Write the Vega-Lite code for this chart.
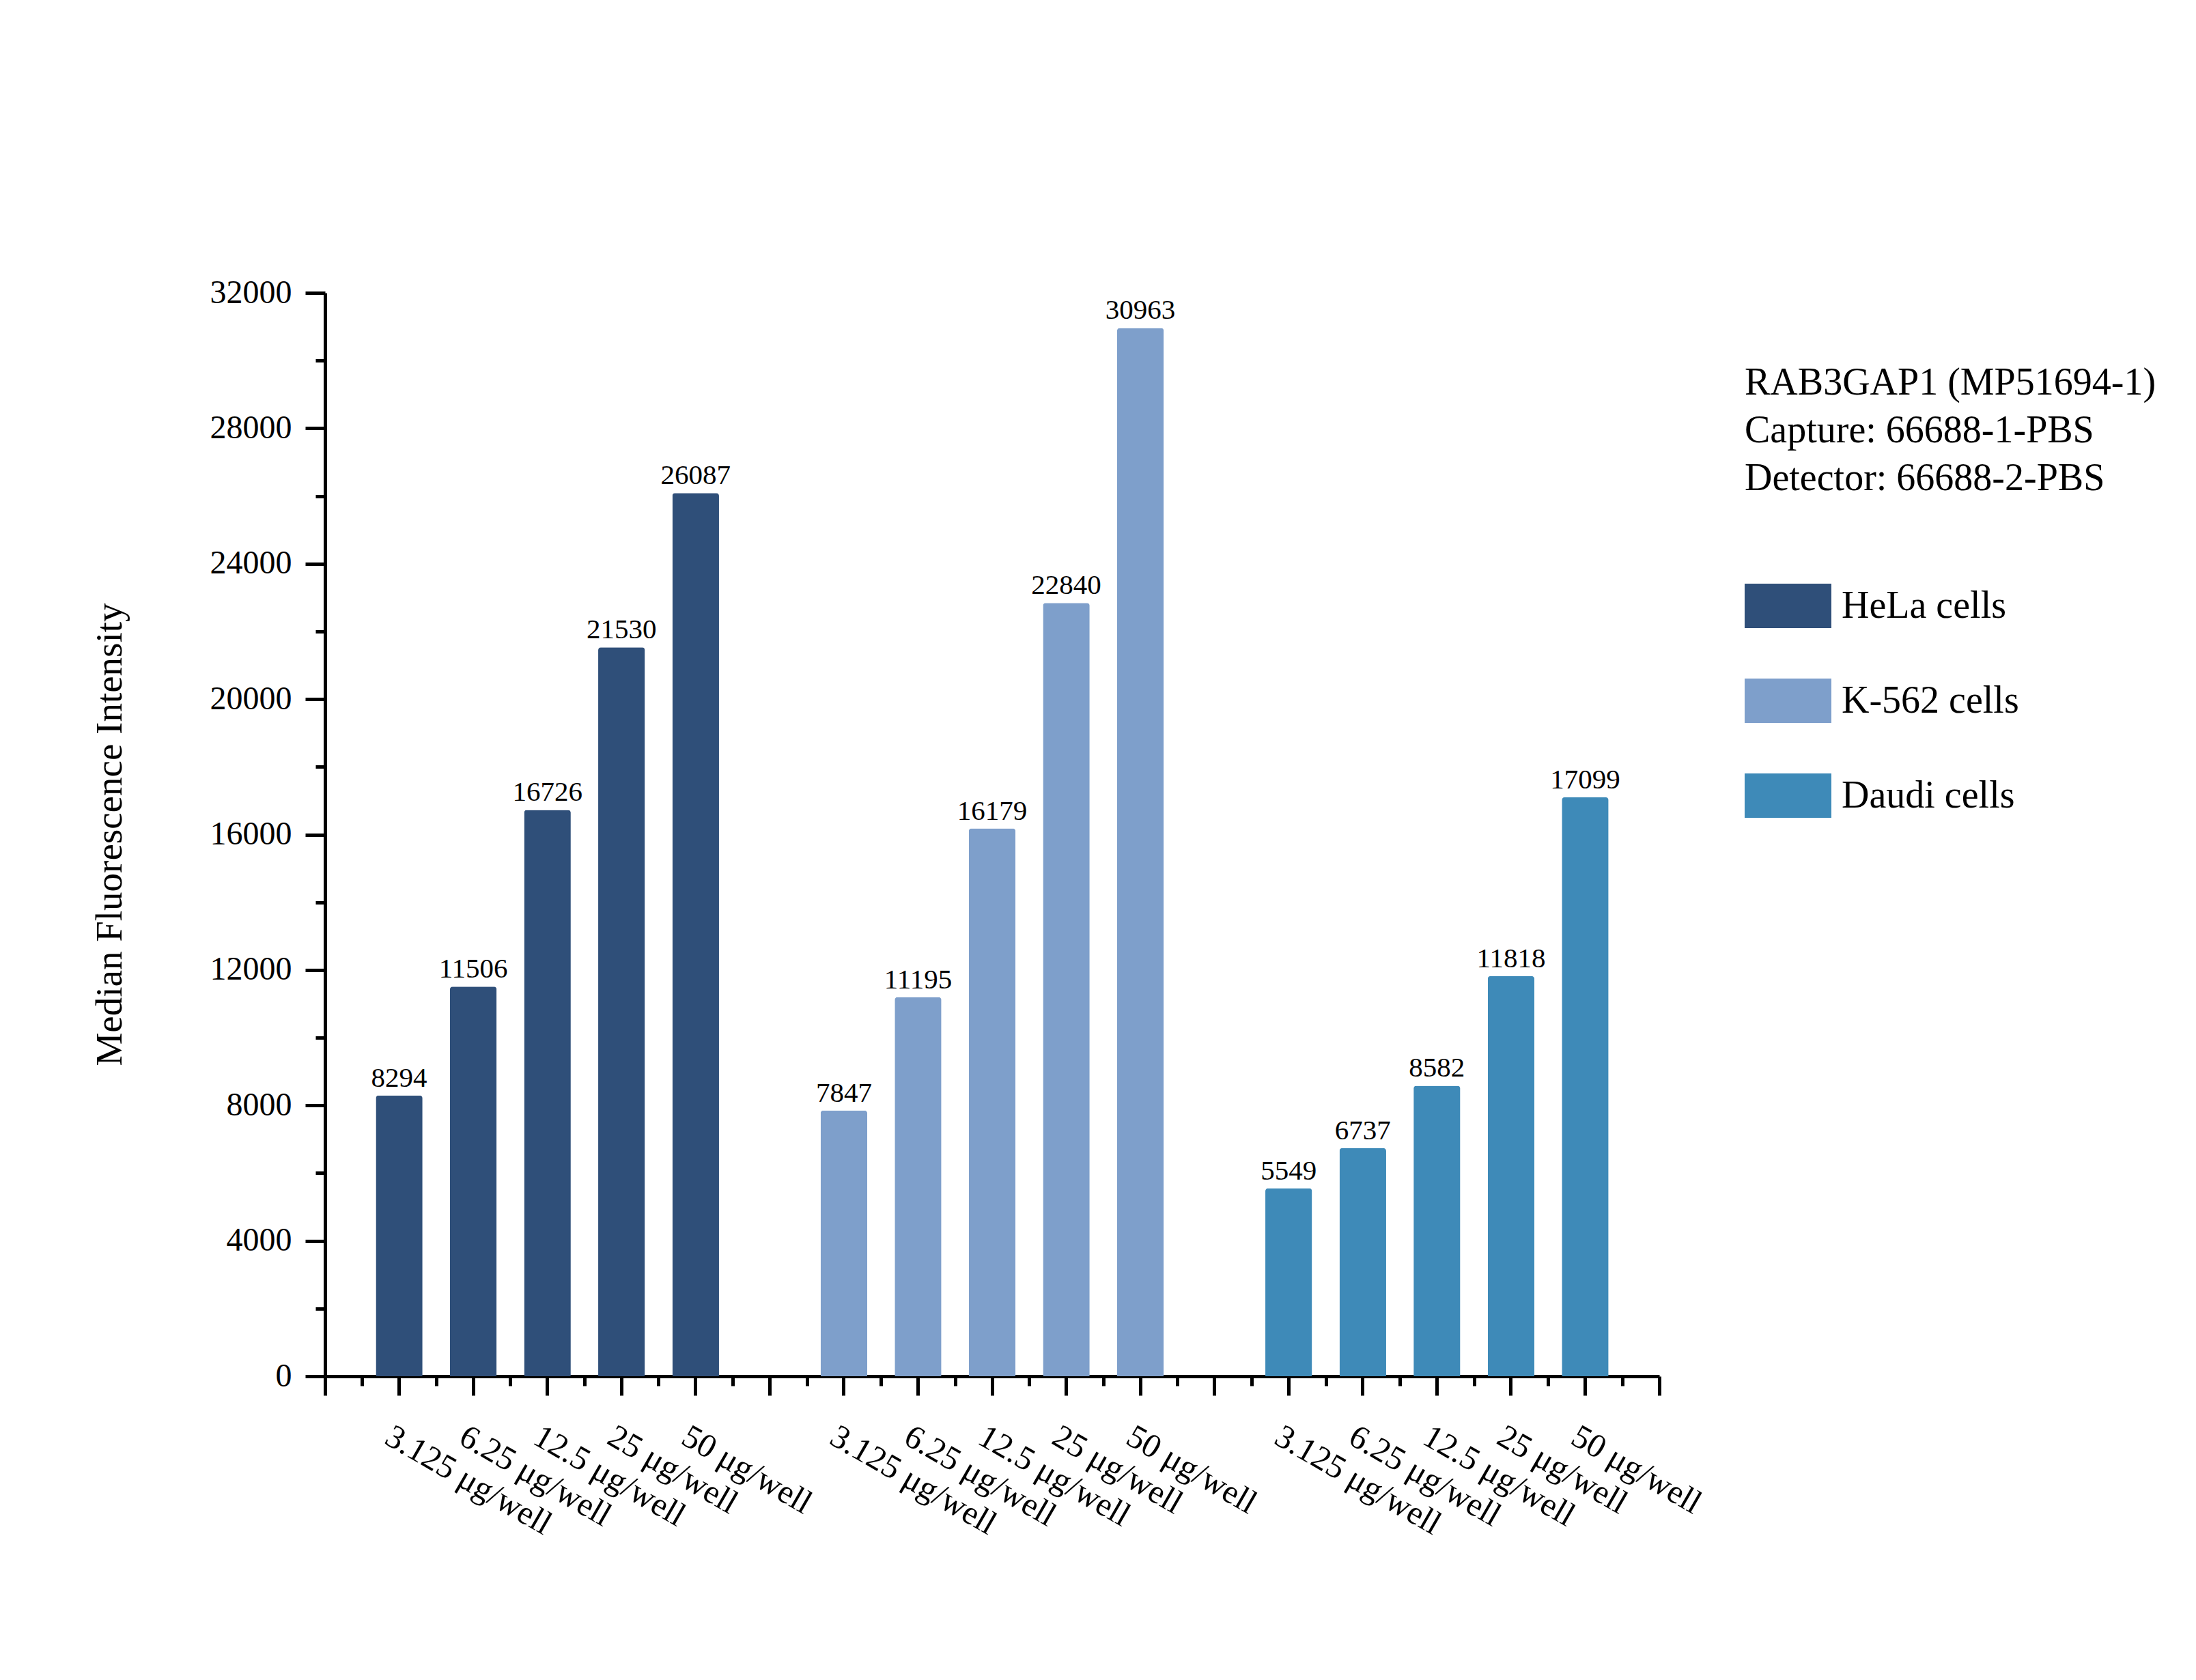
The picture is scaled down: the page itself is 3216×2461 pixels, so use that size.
{
  "$schema": "https://vega.github.io/schema/vega-lite/v6.json",
  "autosize": {"type": "none"},
  "width": 1954,
  "height": 1587,
  "padding": {"left": 476, "top": 429, "right": 786, "bottom": 445},
  "background": "white",
  "config": {
    "view": {"stroke": null},
    "font": "Liberation Serif",
    "axis": {"grid": false, "domainColor": "black", "tickColor": "black", "labelColor": "black", "titleColor": "black", "labelFont": "Liberation Serif", "titleFont": "Liberation Serif"},
    "legend": {"labelFont": "Liberation Serif", "titleFont": "Liberation Serif"}
  },
  "data": {
    "values": [
      {"key": "HeLa cells|3.125 μg/well", "cell": "HeLa cells", "dose": "3.125 μg/well", "value": 8294},
      {"key": "HeLa cells|6.25 μg/well", "cell": "HeLa cells", "dose": "6.25 μg/well", "value": 11506},
      {"key": "HeLa cells|12.5 μg/well", "cell": "HeLa cells", "dose": "12.5 μg/well", "value": 16726},
      {"key": "HeLa cells|25 μg/well", "cell": "HeLa cells", "dose": "25 μg/well", "value": 21530},
      {"key": "HeLa cells|50 μg/well", "cell": "HeLa cells", "dose": "50 μg/well", "value": 26087},
      {"key": "K-562 cells|3.125 μg/well", "cell": "K-562 cells", "dose": "3.125 μg/well", "value": 7847},
      {"key": "K-562 cells|6.25 μg/well", "cell": "K-562 cells", "dose": "6.25 μg/well", "value": 11195},
      {"key": "K-562 cells|12.5 μg/well", "cell": "K-562 cells", "dose": "12.5 μg/well", "value": 16179},
      {"key": "K-562 cells|25 μg/well", "cell": "K-562 cells", "dose": "25 μg/well", "value": 22840},
      {"key": "K-562 cells|50 μg/well", "cell": "K-562 cells", "dose": "50 μg/well", "value": 30963},
      {"key": "Daudi cells|3.125 μg/well", "cell": "Daudi cells", "dose": "3.125 μg/well", "value": 5549},
      {"key": "Daudi cells|6.25 μg/well", "cell": "Daudi cells", "dose": "6.25 μg/well", "value": 6737},
      {"key": "Daudi cells|12.5 μg/well", "cell": "Daudi cells", "dose": "12.5 μg/well", "value": 8582},
      {"key": "Daudi cells|25 μg/well", "cell": "Daudi cells", "dose": "25 μg/well", "value": 11818},
      {"key": "Daudi cells|50 μg/well", "cell": "Daudi cells", "dose": "50 μg/well", "value": 17099}
    ]
  },
  "resolve": {"axis": {"x": "independent", "y": "independent"}},
  "layer": [
    {
      "mark": {"type": "bar", "width": {"band": 0.63}, "cornerRadiusTopLeft": 4, "cornerRadiusTopRight": 4},
      "encoding": {
        "x": {
          "field": "key", "type": "nominal", "sort": null,
          "scale": {"domain": ["HeLa cells|3.125 μg/well", "HeLa cells|6.25 μg/well", "HeLa cells|12.5 μg/well", "HeLa cells|25 μg/well", "HeLa cells|50 μg/well", "gap1", "K-562 cells|3.125 μg/well", "K-562 cells|6.25 μg/well", "K-562 cells|12.5 μg/well", "K-562 cells|25 μg/well", "K-562 cells|50 μg/well", "gap2", "Daudi cells|3.125 μg/well", "Daudi cells|6.25 μg/well", "Daudi cells|12.5 μg/well", "Daudi cells|25 μg/well", "Daudi cells|50 μg/well"], "paddingInner": 0, "paddingOuter": 0.5},
          "axis": {
            "orient": "bottom", "title": null,
            "domainWidth": 5, "tickWidth": 5, "tickSize": 28,
            "labelAngle": 30, "labelAlign": "left", "labelBaseline": "middle",
            "labelPadding": 56, "labelOffset": -16, "labelFontSize": 49,
            "labelLimit": 1000, "labelOverlap": false, "labelBound": false,
            "labelExpr": "indexof(datum.value, '|') >= 0 ? split(datum.value, '|')[1] : ''"
          }
        },
        "y": {
          "field": "value", "type": "quantitative",
          "scale": {"domain": [0, 32000], "nice": false},
          "axis": {
            "orient": "left",
            "values": [0, 4000, 8000, 12000, 16000, 20000, 24000, 28000, 32000],
            "format": "d",
            "domainWidth": 5, "tickWidth": 5, "tickSize": 29,
            "labelFontSize": 48, "labelPadding": 20,
            "title": "Median Fluorescence Intensity",
            "titleFontSize": 55, "titleFontWeight": "normal",
            "titleAngle": -90, "titleX": -316, "titleY": 793,
            "titleAlign": "center", "titleBaseline": "middle"
          }
        },
        "color": {
          "field": "cell", "type": "nominal",
          "scale": {"domain": ["HeLa cells", "K-562 cells", "Daudi cells"], "range": ["#2F4F79", "#7E9FCB", "#3E8AB8"]},
          "legend": {
            "orient": "none", "legendX": 2079, "legendY": 105,
            "title": ["RAB3GAP1 (MP51694-1)", "Capture: 66688-1-PBS", "Detector: 66688-2-PBS"],
            "titleFontSize": 56, "titleFontWeight": "normal", "titleLineHeight": 70,
            "titleLimit": 1000, "titlePadding": 94, "titleColor": "black",
            "labelFontSize": 56, "labelLimit": 1000, "labelColor": "black", "labelOffset": 15,
            "symbolType": "M-1,-0.512H1V0.512H-1Z", "symbolSize": 16129,
            "symbolStrokeWidth": 0, "symbolOpacity": 1, "rowPadding": 42
          }
        }
      }
    },
    {
      "mark": {"type": "text", "baseline": "bottom", "dy": -4, "fontSize": 41, "font": "Liberation Serif", "color": "black"},
      "encoding": {
        "x": {
          "field": "key", "type": "nominal", "sort": null,
          "scale": {"domain": ["HeLa cells|3.125 μg/well", "HeLa cells|6.25 μg/well", "HeLa cells|12.5 μg/well", "HeLa cells|25 μg/well", "HeLa cells|50 μg/well", "gap1", "K-562 cells|3.125 μg/well", "K-562 cells|6.25 μg/well", "K-562 cells|12.5 μg/well", "K-562 cells|25 μg/well", "K-562 cells|50 μg/well", "gap2", "Daudi cells|3.125 μg/well", "Daudi cells|6.25 μg/well", "Daudi cells|12.5 μg/well", "Daudi cells|25 μg/well", "Daudi cells|50 μg/well"], "paddingInner": 0, "paddingOuter": 0.5},
          "axis": {"orient": "bottom", "title": null, "domain": false, "labels": false, "tickBand": "extent", "tickSize": 14, "tickWidth": 5}
        },
        "y": {
          "field": "value", "type": "quantitative",
          "scale": {"domain": [0, 32000], "nice": false},
          "axis": {"orient": "left", "title": null, "domain": false, "labels": false, "values": [2000, 6000, 10000, 14000, 18000, 22000, 26000, 30000], "tickSize": 14, "tickWidth": 5}
        },
        "text": {"field": "value", "type": "quantitative", "format": "d"}
      }
    },
    {
      "mark": {"type": "bar", "opacity": 0},
      "encoding": {
        "x": {
          "field": "key", "type": "nominal", "sort": null,
          "scale": {"domain": ["HeLa cells|3.125 μg/well", "HeLa cells|6.25 μg/well", "HeLa cells|12.5 μg/well", "HeLa cells|25 μg/well", "HeLa cells|50 μg/well", "gap1", "K-562 cells|3.125 μg/well", "K-562 cells|6.25 μg/well", "K-562 cells|12.5 μg/well", "K-562 cells|25 μg/well", "K-562 cells|50 μg/well", "gap2", "Daudi cells|3.125 μg/well", "Daudi cells|6.25 μg/well", "Daudi cells|12.5 μg/well", "Daudi cells|25 μg/well", "Daudi cells|50 μg/well"], "paddingInner": 0, "paddingOuter": 0.5},
          "axis": {"orient": "bottom", "title": null, "domain": false, "labels": false, "values": ["HeLa cells|3.125 μg/well"], "tickOffset": -108.556, "tickSize": 28, "tickWidth": 5}
        },
        "y": {"field": "value", "type": "quantitative", "scale": {"domain": [0, 32000], "nice": false}, "axis": null}
      }
    },
    {
      "mark": {"type": "bar", "opacity": 0},
      "encoding": {
        "x": {
          "field": "key", "type": "nominal", "sort": null,
          "scale": {"domain": ["HeLa cells|3.125 μg/well", "HeLa cells|6.25 μg/well", "HeLa cells|12.5 μg/well", "HeLa cells|25 μg/well", "HeLa cells|50 μg/well", "gap1", "K-562 cells|3.125 μg/well", "K-562 cells|6.25 μg/well", "K-562 cells|12.5 μg/well", "K-562 cells|25 μg/well", "K-562 cells|50 μg/well", "gap2", "Daudi cells|3.125 μg/well", "Daudi cells|6.25 μg/well", "Daudi cells|12.5 μg/well", "Daudi cells|25 μg/well", "Daudi cells|50 μg/well"], "paddingInner": 0, "paddingOuter": 0.5},
          "axis": {"orient": "bottom", "title": null, "domain": false, "labels": false, "values": ["Daudi cells|50 μg/well"], "tickOffset": 108.556, "tickSize": 28, "tickWidth": 5}
        },
        "y": {"field": "value", "type": "quantitative", "scale": {"domain": [0, 32000], "nice": false}, "axis": null}
      }
    }
  ]
}
